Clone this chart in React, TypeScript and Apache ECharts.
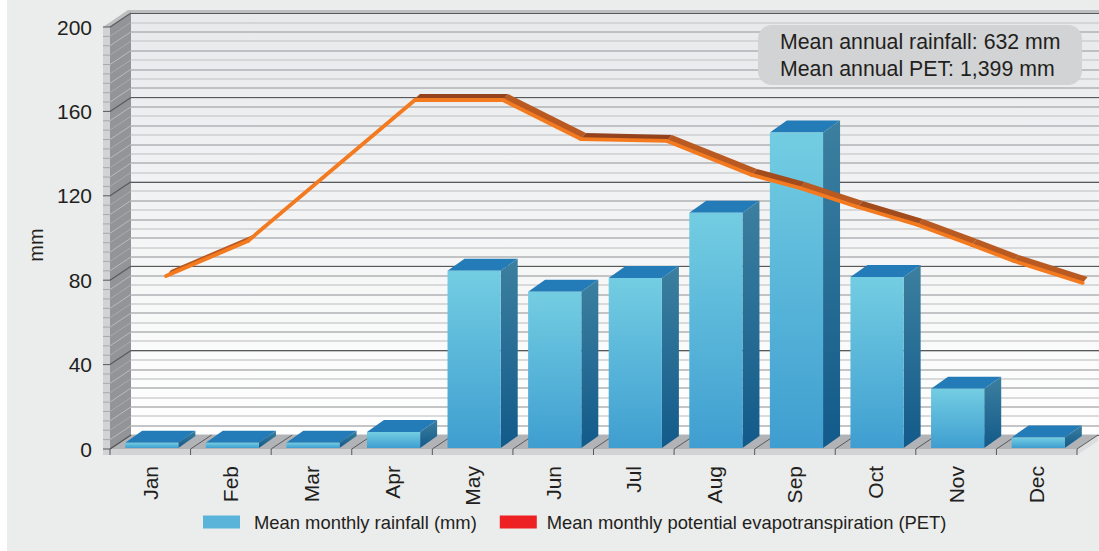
import React, { useEffect, useRef } from "react";
import * as echarts from "echarts";

const months = ["Jan", "Feb", "Mar", "Apr", "May", "Jun", "Jul", "Aug", "Sep", "Oct", "Nov", "Dec"];
const rainfall = [3, 3, 3, 8, 84.5, 74.5, 81, 112, 150, 81.5, 28.5, 5.5];
// PET line knots: position along the month axis (0-12) and value in mm
const petPosition = [0.695, 1.712, 3.784, 4.876, 5.844, 6.911, 7.965, 8.561, 9.28, 10.025, 10.695, 11.216, 12.07];
const petValues = [82, 98.6, 165.4, 165.4, 146.9, 146, 129.9, 123.7, 114.7, 106.2, 96.7, 89.1, 78.7];
const yTicks = 40;
const yMax = 200;
const minorSteps = 45;
const rainName = "Mean monthly rainfall (mm)";
const petName = "Mean monthly potential evapotranspiration (PET)";
const noteLines = ["Mean annual rainfall: 632 mm", "Mean annual PET: 1,399 mm"];

const FONT = "'Liberation Sans', Arial, sans-serif";
const TEXT = "#231f20";
const GL = 110, GT = 27, GR = 1077, GB = 449;
const DX = 21, DY = 14;

const poly = (points: number[][], fill: any, z2 = 0) => ({
  type: "polygon", z2, silent: true, shape: { points }, style: { fill, stroke: "none" },
});
const seg = (a: number[], b: number[], stroke: string, lineWidth = 1, z2 = 1) => ({
  type: "line", z2, silent: true, shape: { x1: a[0], y1: a[1], x2: b[0], y2: b[1] }, style: { stroke, lineWidth },
});

function renderChrome(_p: any, api: any) {
  const kids: any[] = [];
  const x0 = api.coord([0, 0])[0];
  const band = api.size([1, 0])[0];
  const xN = x0 - band / 2 + band * 12;
  const xL = x0 - band / 2;
  const y0 = api.coord([0, 0])[1];
  const yT = api.coord([0, yMax])[1];
  const strip = xL - 7;
  kids.push(poly([[xL, yT], [xL + DX, yT - DY], [xL + DX, y0 - DY], [xL, y0]], "#929497"));
  kids.push(poly([[strip, yT], [xL, yT], [xL, y0 + 6], [strip, y0 + 6]], "#d1d3d4"));
  kids.push(poly([[strip, yT], [xL + DX - 3, yT - 17], [1099, yT - 17], [1099, yT - 14], [xL + DX, yT - 14], [xL, yT]], "#bcbec0"));
  kids.push(poly([[xL, y0], [xL + DX, y0 - DY], [xN + DX, y0 - DY], [xN, y0]], "#b1b3b6"));
  kids.push(poly([[strip, y0], [xN, y0], [xN, y0 + 6], [strip, y0 + 6]], "#d1d3d4"));
  kids.push(poly([[xN, y0], [xN + DX, y0 - DY], [xN + DX, y0 - DY + 6], [xN, y0 + 6]], "#dcddde"));
  for (let i = 0; i <= minorSteps; i++) {
    const v = (yMax * i) / minorSteps;
    const y = api.coord([0, v])[1];
    const major = i % 9 === 0;
    const c = major ? "#58595b" : i % 2 ? "#b9bbbd" : "#a9abae";
    kids.push(seg([xL, y], [xL + DX, y - DY], c, major ? 1.2 : 1));
    kids.push(seg([strip, y], [xL, y], major ? "#58595b" : "#a7a9ac", 1));
  }
  for (let i = 0; i <= 12; i++) {
    const x = xL + band * i;
    kids.push(seg([x, y0], [x + DX, y0 - DY], "#58595b", 1));
    kids.push(seg([x, y0], [x, y0 + 6], "#58595b", 1));
  }
  return { type: "group", children: kids };
}

function renderBar(_p: any, api: any) {
  const i = api.value(0);
  const c = api.coord([i, api.value(1)]);
  const base = api.coord([i, 0]);
  const w = api.size([1, 0])[0] * 0.66;
  const l = c[0] + 1.5 - w / 2, r = l + w, t = c[1], b = base[1] - 1;
  const dx = 17, dy = 12;
  const front = new echarts.graphic.LinearGradient(0, 0, 0, 1, [
    { offset: 0, color: "#73cde2" }, { offset: 1, color: "#3f9ed0" },
  ]);
  const side = new echarts.graphic.LinearGradient(0, 0, 0, 1, [
    { offset: 0, color: "#3c7f9f" }, { offset: 1, color: "#125a8a" },
  ]);
  return {
    type: "group",
    children: [
      poly([[l, t], [r, t], [r + dx, t - dy], [l + dx, t - dy]], "#237bb8"),
      poly([[r, t], [r + dx, t - dy], [r + dx, b - dy], [r, b]], side),
      { type: "rect", silent: true, shape: { x: l, y: t, width: w, height: b - t }, style: { fill: front } },
    ],
  };
}

function renderPet(p: any, api: any) {
  const i = p.dataIndex;
  if (i >= petValues.length - 1) return { type: "group", children: [] };
  const a = api.coord([petPosition[i], petValues[i]]);
  const b = api.coord([petPosition[i + 1], petValues[i + 1]]);
  const ox = 5, oy = -6;
  const slope = Math.abs((b[1] - a[1]) / (b[0] - a[0]));
  const shade = slope < 0.2 ? "#94421e" : slope < 0.31 ? "#a24c1e" : "#b85a22";
  return {
    type: "group",
    children: [
      poly([a, b, [b[0] + ox, b[1] + oy], [a[0] + ox, a[1] + oy]], shade),
      { type: "line", silent: true, z2: 2, shape: { x1: a[0], y1: a[1], x2: b[0], y2: b[1] },
        style: { stroke: "#f47a20", lineWidth: 3.8, lineCap: "round" } },
    ],
  };
}

export default function App() {
  const ref = useRef<HTMLDivElement>(null);
  useEffect(() => {
    const chart = echarts.init(ref.current!, undefined, { renderer: "svg" });
    chart.setOption({
      animation: false,
      textStyle: { fontFamily: FONT, color: TEXT },
      grid: [
        { left: GL, top: GT, width: GR - GL, height: GB - GT },
        {
          left: GL + DX, top: GT - DY, width: 1099 - GL - DX, height: GB - GT, show: true, borderWidth: 0,
          backgroundColor: new echarts.graphic.LinearGradient(0, 0, 0, 1, [
            { offset: 0, color: "#e8e9eb" }, { offset: 1, color: "#ffffff" },
          ]),
        },
      ],
      xAxis: [
        {
          type: "category", gridIndex: 0, data: months,
          axisLine: { show: false }, axisTick: { show: false },
          axisLabel: { rotate: 90, margin: 17, fontSize: 21, color: TEXT, fontFamily: FONT, interval: 0, padding: [0, 0, 3, 0] },
        },
        { type: "value", gridIndex: 0, min: 0, max: 12, show: false },
        { type: "value", gridIndex: 1, min: 0, max: 1, show: false },
      ],
      yAxis: [
        {
          type: "value", gridIndex: 0, min: 0, max: yMax, interval: yTicks,
          name: "mm", nameLocation: "middle", nameGap: 64, nameRotate: 90,
          nameTextStyle: { fontSize: 20, color: TEXT, fontFamily: FONT, padding: [0, 14, 0, 0] },
          axisLine: { show: false }, axisTick: { show: false }, splitLine: { show: false },
          axisLabel: { margin: 18, fontSize: 21, color: TEXT, fontFamily: FONT, padding: [0, 0, 2, 0] },
        },
        {
          type: "value", gridIndex: 1, min: 0, max: yMax, interval: yMax / minorSteps,
          axisLine: { show: false }, axisTick: { show: false }, axisLabel: { show: false },
          splitLine: { show: true, lineStyle: { color: ["#cdcfd0", "#b0b2b4"], width: 1.5 } },
        },
        {
          type: "value", gridIndex: 1, min: 0, max: yMax, interval: yTicks,
          axisLine: { show: false }, axisTick: { show: false }, axisLabel: { show: false },
          splitLine: { show: true, lineStyle: { color: "#58595b", width: 1 } },
        },
      ],
      legend: {
        left: 203, top: 513, padding: 0, itemWidth: 37, itemHeight: 13, itemGap: 23, icon: "rect", selectedMode: false,
        textStyle: { fontSize: 18.4, color: TEXT, fontFamily: FONT },
        data: [
          { name: rainName, itemStyle: { color: "#5ab4d9" }, textStyle: { fontSize: 18.4, color: TEXT, fontFamily: FONT, padding: [0, 0, 0, 9] } },
          { name: petName, itemStyle: { color: "#ed2024" }, textStyle: { fontSize: 18.4, color: TEXT, fontFamily: FONT, padding: [0, 0, 0, 5] } },
        ],
      },
      graphic: [
        {
          type: "rect", z: 10, silent: true, shape: { x: 758, y: 25, width: 324, height: 60, r: 14 },
          style: { fill: "#d1d3d4" },
        },
        ...noteLines.map((t, i) => ({
          type: "text", z: 11, silent: true, x: 780, y: 42 + i * 27,
          style: { text: t, fill: TEXT, font: `21.3px ${FONT}`, textVerticalAlign: "middle" },
        })),
      ],
      series: [
        {
          type: "custom", xAxisIndex: 0, yAxisIndex: 0, z: 1, silent: true,
          data: [[0, 0]], renderItem: renderChrome,
        },
        {
          type: "custom", name: rainName, xAxisIndex: 0, yAxisIndex: 0, z: 3, silent: true,
          itemStyle: { color: "#5ab4d9" },
          data: rainfall.map((v, i) => [i, v]), encode: { x: 0, y: 1 }, renderItem: renderBar,
        },
        {
          type: "custom", name: petName, xAxisIndex: 1, yAxisIndex: 0, z: 4, silent: true,
          itemStyle: { color: "#ed2024" },
          data: petValues.map((v, i) => [petPosition[i], v]), encode: { x: 0, y: 1 }, renderItem: renderPet,
        },
      ],
    });
    return () => chart.dispose();
  }, []);
  return (
    <div style={{ position: "fixed", left: 0, top: 0, width: 1099, height: 551, background: "#fff" }}>
      <div style={{ position: "absolute", left: 7, top: 0, right: 0, bottom: 0, background: "#ebecec" }} />
      <div ref={ref} style={{ position: "absolute", left: 0, top: 0, width: 1099, height: 551 }} />
    </div>
  );
}
